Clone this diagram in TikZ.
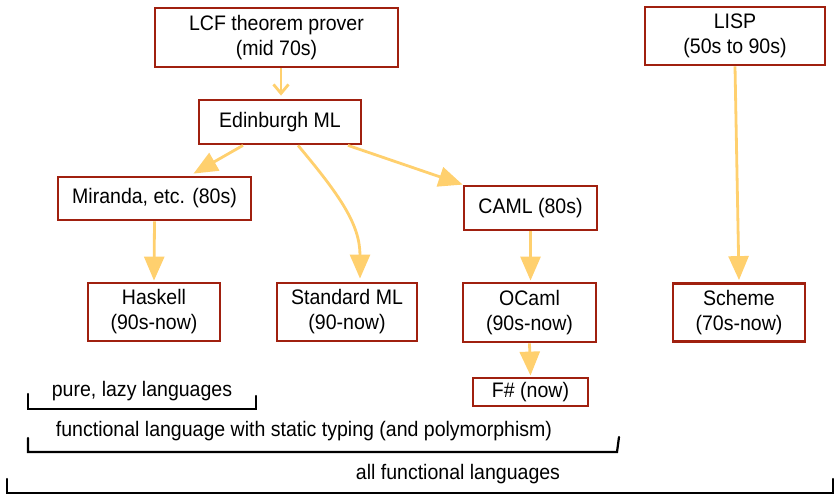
\documentclass[tikz,border=0pt]{standalone}
\usepackage{fontspec}
\setmainfont{Liberation Sans}[FakeStretch=0.93]
\usetikzlibrary{arrows.meta,calc}
\definecolor{boxred}{HTML}{A0200F}
\definecolor{arrorange}{HTML}{FFD06E}
\tikzset{
  langbox/.style={draw=boxred, line width=2.8pt, fill=white, align=center,
    inner sep=0pt, font=\fontsize{21}{25}\selectfont},
  bigarrow/.style={draw=arrorange, line width=2.8pt,
    -{Triangle[length=24pt,width=20pt]}},
  smallarrow/.style={draw=arrorange, line width=2.8pt,
    -{Straight Barb[length=9pt,width=15pt]}},
  brack/.style={draw=black, line width=2.2pt, line cap=round, line join=miter},
  bracktext/.style={inner sep=0pt, font=\fontsize{21}{25}\selectfont}
}
\begin{document}
\begin{tikzpicture}[x=1pt,y=-1pt]
\useasboundingbox (0,0) rectangle (835,495);
% nodes
\node[langbox, minimum width=243pt, minimum height=59pt] (lcf) at (276.5,37.5) {LCF theorem prover\\(mid 70s)};
\node[langbox, minimum width=162pt, minimum height=44pt] (ed) at (280,122) {Edinburgh ML};
\node[langbox, minimum width=193pt, minimum height=43pt] (mir) at (154.5,198.5) {Miranda, etc. (80s)};
\node[langbox, minimum width=132pt, minimum height=58pt] (has) at (154,312) {Haskell\\(90s-now)};
\node[langbox, minimum width=140pt, minimum height=58pt] (sml) at (347,312) {Standard ML\\(90-now)};
\node[langbox, minimum width=133pt, minimum height=44pt] (caml) at (530.5,208) {CAML (80s)};
\node[langbox, minimum width=133pt, minimum height=59pt] (ocaml) at (529.5,312.5) {OCaml\\(90s-now)};
\node[langbox, minimum width=115pt, minimum height=28pt] (fs) at (530.5,392) {F\# (now)};
\node[langbox, minimum width=180pt, minimum height=58pt] (lisp) at (735,36) {LISP\\(50s to 90s)};
\node[langbox, minimum width=132pt, minimum height=58pt] (sch) at (739,312.5) {Scheme\\(70s-now)};
% connectors
\draw[smallarrow] ([xshift=4.5pt]lcf.south) -- ([xshift=1pt,yshift=3pt]ed.north);
\draw[bigarrow] ([xshift=-37pt]ed.south) -- ([xshift=39pt,yshift=2pt]mir.north);
\draw[bigarrow] ([xshift=18pt]ed.south) .. controls +(42,50) and +(0,-54) .. ([xshift=13pt,yshift=3pt]sml.north);
\draw[bigarrow] ([xshift=68pt]ed.south) -- (caml.north west);
\draw[bigarrow] (mir.south) -- ([yshift=1pt]has.north);
\draw[bigarrow] (caml.south) -- ([xshift=1pt,yshift=1pt]ocaml.north);
\draw[bigarrow] (ocaml.south) -- ([yshift=1pt]fs.north);
\draw[bigarrow] (lisp.south) -- ([yshift=2pt]sch.north);
% brackets
\node[bracktext] (pure) at (142,391) {pure, lazy languages};
\draw[brack] (28,394) -- (28,409) -- (256,409) -- (256,396);
\node[bracktext] (stat) at (304,431) {functional language with static typing (and polymorphism)};
\draw[brack] (28,438) -- (28,452) -- (617,452) -- (619,437);
\node[bracktext] (allf) at (458,474) {all functional languages};
\draw[brack] (7,479) -- (7,493) -- (833,493) -- (833,479);
\end{tikzpicture}
\end{document}
